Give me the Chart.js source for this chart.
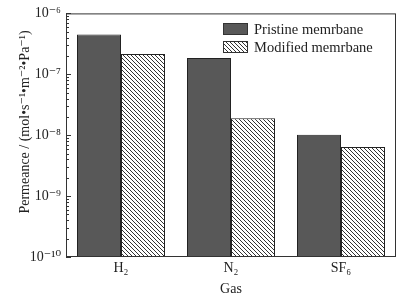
<!DOCTYPE html>
<html>
<head>
<meta charset="utf-8">
<script src="https://cdn.jsdelivr.net/npm/chart.js@4.4.0/dist/chart.umd.min.js"></script>
<style>
  html, body { margin: 0; padding: 0; background: #fff; }
  #wrap { width: 416px; height: 302px; }
</style>
</head>
<body>
<div id="wrap"><canvas id="chart"></canvas></div>
<script>
const gases = ["H₂", "N₂", "SF₆"];
const seriesNames = ["Pristine memrbane", "Modified memrbane"];
const pristine = [4.5e-7, 1.85e-7, 1.02e-8];
const modified = [2.15e-7, 1.9e-8, 6.4e-9];
const decadeExps = [-10, -9, -8, -7, -6];
const decadeLabels = ["10⁻¹⁰", "10⁻⁹", "10⁻⁸", "10⁻⁷", "10⁻⁶"];
const yTitle = "Permeance / (mol•s⁻¹•m⁻²•Pa⁻¹)";

const SERIF = "'Liberation Serif', 'DejaVu Serif', serif";
const ctx = document.getElementById("chart").getContext("2d");

// diagonal hatch for the modified membrane bars
function makeHatch() {
  const p = document.createElement("canvas");
  p.width = p.height = 4;
  const g = p.getContext("2d");
  g.fillStyle = "#fff";
  g.fillRect(0, 0, 4, 4);
  g.strokeStyle = "#333";
  g.lineWidth = 1;
  g.beginPath();
  g.moveTo(-1, -1); g.lineTo(5, 5);
  g.moveTo(-1, 3); g.lineTo(1, 5);
  g.moveTo(3, -1); g.lineTo(5, 1);
  g.stroke();
  return ctx.createPattern(p, "repeat");
}
const hatch = makeHatch();

// frame, inward ticks, y title and legend inside the plot
const decorations = {
  id: "decorations",
  afterDraw(chart) {
    const { ctx, chartArea: a, scales } = chart;
    const y = scales.y;
    ctx.save();
    ctx.strokeStyle = "#333";
    ctx.lineWidth = 1;
    ctx.strokeRect(a.left + 0.5, a.top + 0.5, a.right - a.left - 1, a.bottom - a.top - 1);
    ctx.beginPath();
    decadeExps.forEach((e) => {
      for (let m = 1; m <= 9; m++) {
        const v = m * Math.pow(10, e);
        if (v > y.max * 1.0001) break;
        const py = Math.round(y.getPixelForValue(v)) + 0.5;
        const len = m === 1 ? 5 : 3;
        ctx.moveTo(a.left, py);
        ctx.lineTo(a.left + len, py);
      }
    });
    ctx.stroke();

    // y axis title
    ctx.save();
    ctx.translate(25, 122);
    ctx.rotate(-Math.PI / 2);
    ctx.font = "14px " + SERIF;
    ctx.textAlign = "center";
    ctx.textBaseline = "middle";
    ctx.fillStyle = "#222";
    ctx.fillText(yTitle, 0, 0);
    ctx.restore();

    // legend
    const lx = 223, ly = 23, bw = 25, bh = 12, gap = 18;
    ctx.font = "14.5px " + SERIF;
    ctx.textBaseline = "middle";
    chart.data.datasets.forEach((ds, i) => {
      const by = ly + i * gap;
      ctx.fillStyle = ds.backgroundColor;
      ctx.fillRect(lx, by, bw, bh);
      ctx.strokeStyle = "#333";
      ctx.strokeRect(lx + 0.5, by + 0.5, bw - 1, bh - 1);
      ctx.fillStyle = "#222";
      ctx.fillText(ds.label, lx + bw + 6, by + bh / 2 + 1);
    });
    ctx.restore();
  }
};

new Chart(ctx, {
  type: "bar",
  data: {
    labels: gases,
    datasets: [
      {
        label: seriesNames[0],
        data: pristine,
        backgroundColor: "#585858",
        borderColor: "#222",
        borderWidth: 1,
        borderSkipped: false
      },
      {
        label: seriesNames[1],
        data: modified,
        backgroundColor: hatch,
        borderColor: "#222",
        borderWidth: 1,
        borderSkipped: false
      }
    ]
  },
  options: {
    responsive: true,
    maintainAspectRatio: false,
    animation: false,
    layout: { padding: { top: 12, right: 20, left: 0, bottom: 0 } },
    plugins: {
      legend: { display: false },
      tooltip: { enabled: false }
    },
    datasets: {
      bar: { categoryPercentage: 0.8, barPercentage: 1.0 }
    },
    scales: {
      x: {
        grid: { display: false, drawTicks: false },
        border: { display: false },
        ticks: { color: "#222", font: { family: SERIF, size: 14 }, padding: 3 },
        title: { display: true, text: "Gas", color: "#222", font: { family: SERIF, size: 14 }, padding: { top: 0 } },
        afterFit(scale) { scale.height = 45; }
      },
      y: {
        type: "logarithmic",
        min: 1e-10,
        max: 1e-6,
        grid: { display: false, drawTicks: false },
        border: { display: false },
        afterBuildTicks(scale) {
          const t = [];
          decadeExps.forEach((e) => {
            for (let m = 1; m <= 9; m++) {
              const v = m * Math.pow(10, e);
              if (v <= 1e-6 * 1.0001) t.push({ value: v, major: m === 1 });
            }
          });
          scale.ticks = t;
        },
        ticks: {
          autoSkip: false,
          padding: 5,
          color: "#222",
          font: { family: SERIF, size: 14 },
          callback(value) {
            const e = Math.round(Math.log10(value));
            if (Math.abs(value - Math.pow(10, e)) / value > 1e-6) return "";
            return decadeLabels[decadeExps.indexOf(e)];
          }
        },
        title: { display: false },
        afterFit(scale) { scale.width = 66; }
      }
    }
  },
  plugins: [decorations]
});
</script>
</body>
</html>
